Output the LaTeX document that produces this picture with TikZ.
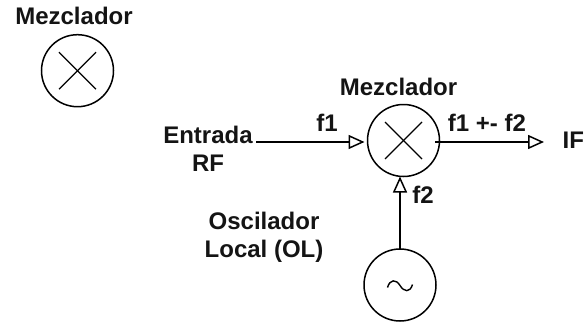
\documentclass[tikz,border=0pt]{standalone}
\usepackage{fontspec}
\setmainfont{Liberation Sans}
\usetikzlibrary{arrows.meta}
\tikzset{
  lbl/.style={font=\fontsize{24}{28}\selectfont\bfseries, inner sep=0pt, outer sep=0pt, align=center, text=black!92},
  circ/.style={circle, draw=black, line width=1.5pt, minimum size=72pt, inner sep=0pt, outer sep=0pt},
  xmark/.style={line width=1.3pt, black},
  conn/.style={line width=1.5pt, black, -{Triangle[open, length=16pt, width=14pt, line width=1.5pt]}}
}
\begin{document}
\begin{tikzpicture}[x=1pt,y=-1pt]
\useasboundingbox (0,0) rectangle (585,321);
\node[lbl, anchor=base] (t1) at (74,25) {Mezclador};
\node[circ] (m1) at (77.5,70.7) {};
\draw[xmark] (m1.center)+(-18.5,-18.5) -- +(18.5,18.5);
\draw[xmark] (m1.center)+(-18.5,18.5) -- +(18.5,-18.5);

\node[lbl, anchor=base] (t2) at (398.5,95) {Mezclador};
\node[circ] (m2) at (403.5,140.5) {};
\draw[xmark] (m2.center)+(-18.5,-18.5) -- +(18.5,18.5);
\draw[xmark] (m2.center)+(-18.5,18.5) -- +(18.5,-18.5);

\node[circ] (osc) at (400,285) {};
\draw[line width=1.4pt] (387.5,287.5) .. controls (390,279) and (396,279) .. (400,285.5)
   .. controls (404,292) and (410,293) .. (412.5,284.5);

\node[lbl] (rf) at (208,148.5) {Entrada\\RF};
\coordinate (rfout) at (256,142);
\draw[conn, shorten >=3pt] (rfout) -- (m2.west |- rfout);
\node[lbl, anchor=base] (f1) at (327,131) {f1};
\coordinate (ifout) at (544,142);
\coordinate (ifin) at (435,142);
\draw[conn] (ifin) -- (ifout);
\node[lbl, anchor=base] (f12) at (487,131) {f1 +- f2};
\node[lbl, anchor=base east] (if) at (584,148) {IF};
\draw[conn] (osc.north) -- (m2.south -| osc.north);
\node[lbl, anchor=base] (f2) at (423,203) {f2};
\node[lbl] (ol) at (264,237) {Oscilador\\Local (OL)};
\end{tikzpicture}
\end{document}
